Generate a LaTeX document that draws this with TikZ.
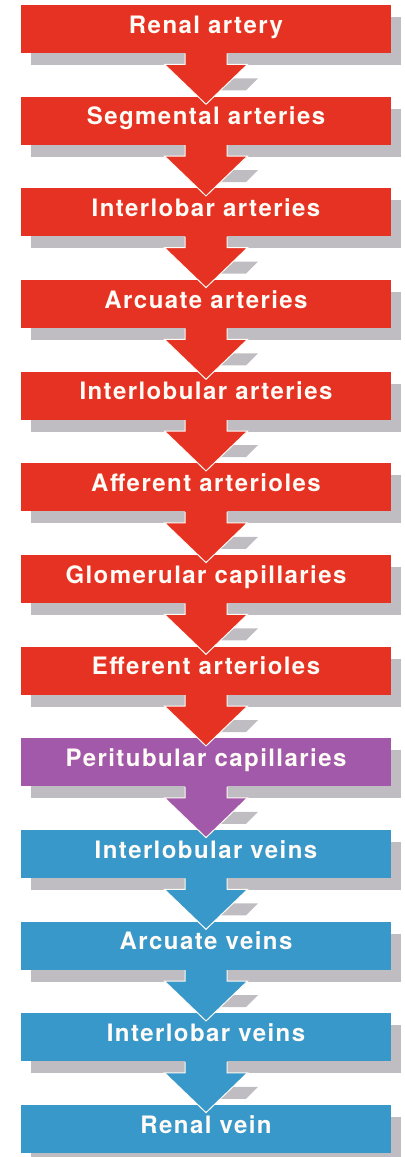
\documentclass[tikz,border=0pt]{standalone}
\usepackage{fontspec}
\setmainfont{TeX Gyre Heros}[LetterSpace=6]
\usepackage{tikz}
\usetikzlibrary{shadows}
\definecolor{arterycol}{RGB}{230,50,34}
\definecolor{capcol}{RGB}{162,89,170}
\definecolor{veincol}{RGB}{56,152,201}
\definecolor{shadowgray}{RGB}{192,189,194}
\definecolor{labelwhite}{RGB}{255,251,246}

\begin{document}
\begin{tikzpicture}[x=0.5pt,y=-0.5pt,
        stage/.style={rectangle, minimum width=185pt, minimum height=24pt, inner sep=0pt,
            text=labelwhite, font=\fontsize{12}{14}\bfseries, text height=8.6pt, text depth=4.6pt,
            general shadow={fill=shadowgray, shadow xshift=5pt, shadow yshift=-6pt}}]
    \useasboundingbox (0,0) rectangle (404,1157);
    % stages of the blood flow
    \foreach \txt/\col [count=\i from 0] in {Renal artery/arterycol, Segmental arteries/arterycol,
            Interlobar arteries/arterycol, Arcuate arteries/arterycol, Interlobular arteries/arterycol,
            Afferent arterioles/arterycol, Glomerular capillaries/arterycol, Efferent arterioles/arterycol,
            Peritubular capillaries/capcol, Interlobular veins/veincol, Arcuate veins/veincol,
            Interlobar veins/veincol, Renal vein/veincol}
        \node[stage, fill=\col] (s\i) at (206, 29+91.67*\i) {\txt};
    % arrows between stages
    \foreach \col [count=\i from 0, evaluate=\i as \j using int(\i+1)] in {arterycol, arterycol,
            arterycol, arterycol, arterycol, arterycol, arterycol, arterycol, capcol,
            veincol, veincol, veincol}
    {
        \begin{scope}[shift={(s\i.south)}]
            \fill[shadowgray] (20,25) -- (52,25) -- (40,37) -- (10,37) -- cycle;
            \fill[\col] (-21,-1) -- (-21,11) -- (-41.5,11) -- ([yshift=-4pt]s\j.north)
                -- (41.5,11) -- (21,11) -- (21,-1) -- cycle;
            \draw[labelwhite, line width=0.5pt] (-21,0) -- (-21,11) -- (-41.5,11)
                -- ([yshift=-4pt]s\j.north) -- (41.5,11) -- (21,11) -- (21,0);
        \end{scope}
    }
\end{tikzpicture}
\end{document}
